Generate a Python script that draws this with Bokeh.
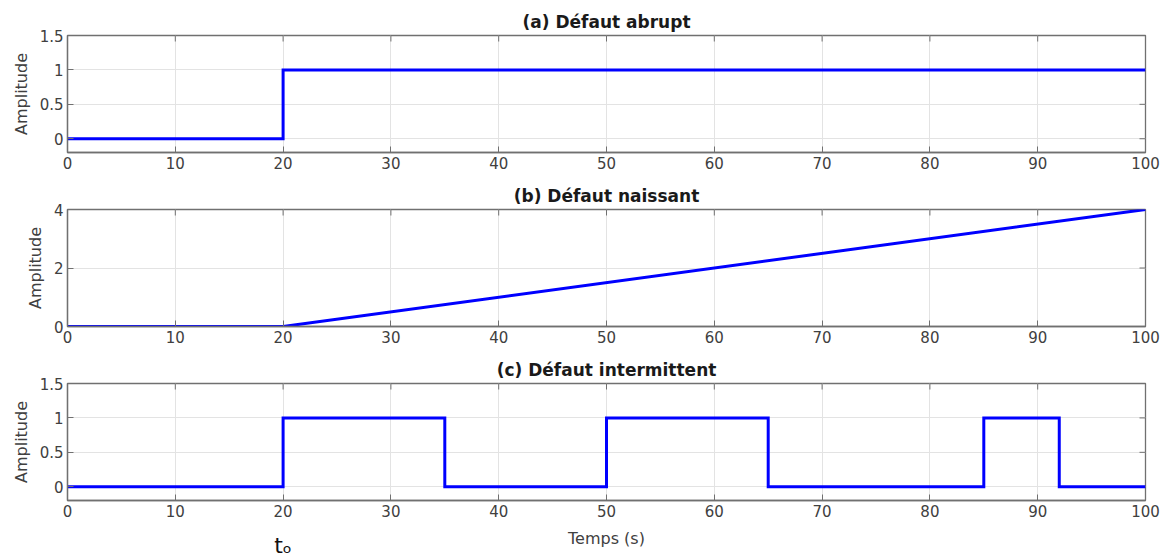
import math
from bokeh.plotting import figure
from bokeh.models import Range1d, FixedTicker, LinearAxis
from bokeh.layouts import column
from bokeh.embed import file_html
from bokeh.resources import INLINE

# ---- data ----
x_ticks = [0, 10, 20, 30, 40, 50, 60, 70, 80, 90, 100]
titles = ["(a) Défaut abrupt", "(b) Défaut naissant", "(c) Défaut intermittent"]

abrupt_t = [0, 20, 20, 100]
abrupt_y = [0, 0, 1, 1]

incipient_t = [0, 20, 100]
incipient_y = [0, 0, 4]

inter_t = [0, 20, 20, 35, 35, 50, 50, 65, 65, 85, 85, 92, 92, 100]
inter_y = [0, 0, 1, 1, 0, 0, 1, 1, 0, 0, 1, 1, 0, 0]

yticks_step = [0, 0.5, 1, 1.5]
ylabels_step = {0: "0", 0.5: "0.5", 1: "1", 1.5: "1.5"}
yticks_ramp = [0, 2, 4]
ylabels_ramp = {0: "0", 2: "2", 4: "4"}

t0 = 20
t0_label = "tₒ"
x_label = "Temps (s)"
y_label = "Amplitude"

# ---- style ----
FONT = "DejaVu Sans"
AX = "#707070"
TXT = "#404040"
FRAME_W = 1078
FRAME_H = 117
XLO, XHI = 0, 100


def style_axis(ax):
    ax.axis_line_color = AX
    ax.axis_line_width = 1.3
    ax.major_tick_line_color = AX
    ax.major_tick_in = 6
    ax.major_tick_out = 0
    ax.minor_tick_line_color = None
    ax.major_label_text_font = FONT
    ax.major_label_text_font_size = "15px"
    ax.major_label_text_color = TXT
    ax.major_label_standoff = 4


def panel(title, t, y, yrange, yticks, ylabels, bottom, xlab=None):
    h = 35 + FRAME_H + bottom
    p = figure(frame_width=FRAME_W, frame_height=FRAME_H, width=1168, height=h,
               x_range=Range1d(XLO, XHI), y_range=Range1d(*yrange),
               output_backend="svg", toolbar_location=None,
               min_border_left=67, min_border_right=23,
               min_border_top=35, min_border_bottom=bottom)
    p.outline_line_color = AX
    p.outline_line_width = 1.3
    p.background_fill_color = "white"
    p.border_fill_color = "white"
    p.title.text = title
    p.title.align = "center"
    p.title.text_font = FONT
    p.title.text_font_size = "17px"
    p.title.text_font_style = "bold"
    p.title.text_color = "#1a1a1a"
    p.title.standoff = 7

    p.xaxis.ticker = FixedTicker(ticks=x_ticks)
    p.yaxis.ticker = FixedTicker(ticks=yticks)
    p.yaxis.major_label_overrides = ylabels
    style_axis(p.xaxis[0])
    style_axis(p.yaxis[0])
    p.yaxis.axis_label = y_label
    p.yaxis.axis_label_text_font = FONT
    p.yaxis.axis_label_text_font_size = "16px"
    p.yaxis.axis_label_text_font_style = "normal"
    p.yaxis.axis_label_text_color = TXT
    p.yaxis.axis_label_standoff = 6
    if xlab:
        p.xaxis.axis_label = xlab
        p.xaxis.axis_label_text_font = FONT
        p.xaxis.axis_label_text_font_size = "16px"
        p.xaxis.axis_label_text_font_style = "normal"
        p.xaxis.axis_label_text_color = TXT
        p.xaxis.axis_label_standoff = 9

    p.xgrid.grid_line_color = "#e3e3e3"
    p.ygrid.grid_line_color = "#e3e3e3"
    p.xgrid.ticker = FixedTicker(ticks=x_ticks)
    p.ygrid.ticker = FixedTicker(ticks=yticks)

    # inward tick marks on the top and right edges of the box (clipped to half)
    p.scatter(x_ticks, [yrange[1]] * len(x_ticks), marker="dash", size=12,
              angle=math.pi / 2, line_color=AX, line_width=1)
    p.scatter([XHI] * len(yticks), yticks, marker="dash", size=12,
              line_color=AX, line_width=1)

    p.line(t, y, line_color="#0000ff", line_width=3, line_join="miter")
    return p


pa = panel(titles[0], abrupt_t, abrupt_y, (-0.2, 1.5), yticks_step, ylabels_step, 22)
pb = panel(titles[1], incipient_t, incipient_y, (0, 4), yticks_ramp, ylabels_ramp, 22)
pc = panel(titles[2], inter_t, inter_y, (-0.2, 1.5), yticks_step, ylabels_step, 59, xlab=x_label)

# fault onset marker t0 under the time axis
t0_axis = LinearAxis(ticker=FixedTicker(ticks=[t0]), major_label_overrides={t0: t0_label})
t0_axis.axis_line_color = None
t0_axis.major_tick_line_color = None
t0_axis.minor_tick_line_color = None
t0_axis.major_label_text_font = FONT
t0_axis.major_label_text_font_size = "22px"
t0_axis.major_label_text_color = "#111111"
t0_axis.major_label_standoff = -24
pc.add_layout(t0_axis, "below")

layout = column(pa, pb, pc, spacing=0)
open("out.html", "w").write(file_html(layout, INLINE))
